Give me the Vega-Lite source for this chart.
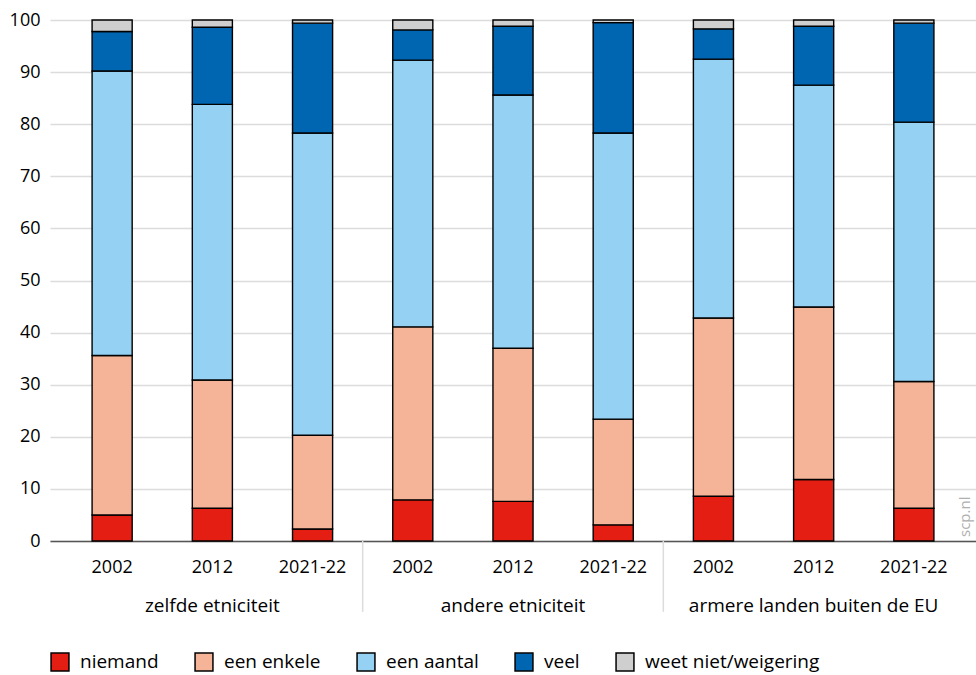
{
  "$schema": "https://vega.github.io/schema/vega-lite/v6.json",
  "width": 926,
  "height": 521,
  "autosize": {"type": "none"},
  "padding": {"left": 50, "top": 20, "right": 0, "bottom": 134},
  "config": {"font": "Open Sans", "view": {"stroke": null}},
  "datasets": {
    "bars": [
      {"g": "zelfde etniciteit|2002", "cat": "niemand", "k": 0, "v": 5.0},
      {"g": "zelfde etniciteit|2002", "cat": "een enkele", "k": 1, "v": 30.6},
      {"g": "zelfde etniciteit|2002", "cat": "een aantal", "k": 2, "v": 54.6},
      {"g": "zelfde etniciteit|2002", "cat": "veel", "k": 3, "v": 7.6},
      {"g": "zelfde etniciteit|2002", "cat": "weet niet/weigering", "k": 4, "v": 2.2},
      {"g": "zelfde etniciteit|2012", "cat": "niemand", "k": 0, "v": 6.3},
      {"g": "zelfde etniciteit|2012", "cat": "een enkele", "k": 1, "v": 24.6},
      {"g": "zelfde etniciteit|2012", "cat": "een aantal", "k": 2, "v": 52.9},
      {"g": "zelfde etniciteit|2012", "cat": "veel", "k": 3, "v": 14.8},
      {"g": "zelfde etniciteit|2012", "cat": "weet niet/weigering", "k": 4, "v": 1.4},
      {"g": "zelfde etniciteit|2021-22", "cat": "niemand", "k": 0, "v": 2.3},
      {"g": "zelfde etniciteit|2021-22", "cat": "een enkele", "k": 1, "v": 18.0},
      {"g": "zelfde etniciteit|2021-22", "cat": "een aantal", "k": 2, "v": 58.0},
      {"g": "zelfde etniciteit|2021-22", "cat": "veel", "k": 3, "v": 21.1},
      {"g": "zelfde etniciteit|2021-22", "cat": "weet niet/weigering", "k": 4, "v": 0.6},
      {"g": "andere etniciteit|2002", "cat": "niemand", "k": 0, "v": 7.9},
      {"g": "andere etniciteit|2002", "cat": "een enkele", "k": 1, "v": 33.2},
      {"g": "andere etniciteit|2002", "cat": "een aantal", "k": 2, "v": 51.2},
      {"g": "andere etniciteit|2002", "cat": "veel", "k": 3, "v": 5.8},
      {"g": "andere etniciteit|2002", "cat": "weet niet/weigering", "k": 4, "v": 1.9},
      {"g": "andere etniciteit|2012", "cat": "niemand", "k": 0, "v": 7.6},
      {"g": "andere etniciteit|2012", "cat": "een enkele", "k": 1, "v": 29.4},
      {"g": "andere etniciteit|2012", "cat": "een aantal", "k": 2, "v": 48.6},
      {"g": "andere etniciteit|2012", "cat": "veel", "k": 3, "v": 13.2},
      {"g": "andere etniciteit|2012", "cat": "weet niet/weigering", "k": 4, "v": 1.2},
      {"g": "andere etniciteit|2021-22", "cat": "niemand", "k": 0, "v": 3.1},
      {"g": "andere etniciteit|2021-22", "cat": "een enkele", "k": 1, "v": 20.3},
      {"g": "andere etniciteit|2021-22", "cat": "een aantal", "k": 2, "v": 54.9},
      {"g": "andere etniciteit|2021-22", "cat": "veel", "k": 3, "v": 21.2},
      {"g": "andere etniciteit|2021-22", "cat": "weet niet/weigering", "k": 4, "v": 0.5},
      {"g": "armere landen buiten de EU|2002", "cat": "niemand", "k": 0, "v": 8.6},
      {"g": "armere landen buiten de EU|2002", "cat": "een enkele", "k": 1, "v": 34.2},
      {"g": "armere landen buiten de EU|2002", "cat": "een aantal", "k": 2, "v": 49.7},
      {"g": "armere landen buiten de EU|2002", "cat": "veel", "k": 3, "v": 5.8},
      {"g": "armere landen buiten de EU|2002", "cat": "weet niet/weigering", "k": 4, "v": 1.7},
      {"g": "armere landen buiten de EU|2012", "cat": "niemand", "k": 0, "v": 11.8},
      {"g": "armere landen buiten de EU|2012", "cat": "een enkele", "k": 1, "v": 33.1},
      {"g": "armere landen buiten de EU|2012", "cat": "een aantal", "k": 2, "v": 42.6},
      {"g": "armere landen buiten de EU|2012", "cat": "veel", "k": 3, "v": 11.3},
      {"g": "armere landen buiten de EU|2012", "cat": "weet niet/weigering", "k": 4, "v": 1.2},
      {"g": "armere landen buiten de EU|2021-22", "cat": "niemand", "k": 0, "v": 6.3},
      {"g": "armere landen buiten de EU|2021-22", "cat": "een enkele", "k": 1, "v": 24.3},
      {"g": "armere landen buiten de EU|2021-22", "cat": "een aantal", "k": 2, "v": 49.8},
      {"g": "armere landen buiten de EU|2021-22", "cat": "veel", "k": 3, "v": 19.0},
      {"g": "armere landen buiten de EU|2021-22", "cat": "weet niet/weigering", "k": 4, "v": 0.6}
    ],
    "groups": [
      {"g": "zelfde etniciteit|2012", "label": "zelfde etniciteit"},
      {"g": "andere etniciteit|2012", "label": "andere etniciteit"},
      {"g": "armere landen buiten de EU|2012", "label": "armere landen buiten de EU"}
    ],
    "seps": [
      {"g": "andere etniciteit|2002"},
      {"g": "armere landen buiten de EU|2002"}
    ],
    "credit": [
      {"g": "armere landen buiten de EU|2021-22", "label": "scp.nl"}
    ]
  },
  "layer": [
    {
      "data": {"name": "bars"},
      "mark": {"type": "bar", "stroke": "black", "strokeWidth": 1.4},
      "encoding": {
        "x": {
          "field": "g", "type": "nominal",
          "scale": {
            "domain": [
              "zelfde etniciteit|2002", "zelfde etniciteit|2012", "zelfde etniciteit|2021-22",
              "andere etniciteit|2002", "andere etniciteit|2012", "andere etniciteit|2021-22",
              "armere landen buiten de EU|2002", "armere landen buiten de EU|2012", "armere landen buiten de EU|2021-22"
            ],
            "paddingInner": 0.6, "paddingOuter": 0.42
          },
          "axis": {
            "title": null, "labelExpr": "split(datum.value, '|')[1]", "labelAngle": 0,
            "ticks": false, "grid": false, "labelFontSize": 18, "labelPadding": 17,
            "labelColor": "#000000", "domainColor": "#555555", "domainWidth": 1.5
          }
        },
        "y": {
          "field": "v", "type": "quantitative", "stack": "zero",
          "scale": {"domain": [0, 100], "nice": false, "zero": true},
          "axis": {
            "title": null, "values": [0, 10, 20, 30, 40, 50, 60, 70, 80, 90, 100],
            "domain": false, "ticks": false, "labelFontSize": 18, "labelPadding": 10,
            "labelColor": "#000000", "gridColor": "#dcdcdc", "gridWidth": 1.5
          }
        },
        "color": {
          "field": "cat", "type": "nominal",
          "scale": {
            "domain": ["niemand", "een enkele", "een aantal", "veel", "weet niet/weigering"],
            "range": ["#e41e13", "#f5b498", "#94d1f3", "#0066b2", "#cfcfcf"]
          },
          "legend": {
            "orient": "none", "legendX": 0, "legendY": 632, "direction": "horizontal",
            "title": null, "symbolType": "square", "symbolSize": 320,
            "symbolStrokeColor": "black", "symbolStrokeWidth": 1.5, "symbolOpacity": 1,
            "labelFontSize": 19, "labelOffset": 10, "columnPadding": 33, "labelLimit": 0,
            "labelColor": "#000000"
          }
        },
        "order": {"field": "k", "type": "quantitative", "sort": "ascending"}
      }
    },
    {
      "data": {"name": "seps"},
      "mark": {"type": "rule", "color": "#dcdcdc", "strokeWidth": 1.5},
      "encoding": {
        "x": {"field": "g", "type": "nominal", "bandPosition": -0.75, "axis": {"title": null}},
        "y": {"datum": 0},
        "y2": {"datum": -13.6}
      }
    },
    {
      "data": {"name": "groups"},
      "mark": {"type": "text", "fontSize": 19, "baseline": "middle", "align": "center", "color": "#000000"},
      "encoding": {
        "x": {"field": "g", "type": "nominal", "axis": {"title": null}},
        "y": {"datum": -12.5},
        "text": {"field": "label"}
      }
    },
    {
      "data": {"name": "credit"},
      "mark": {"type": "text", "fontSize": 15, "angle": 270, "align": "left", "baseline": "middle", "dx": 4, "dy": 51, "color": "#b0b0b0"},
      "encoding": {
        "x": {"field": "g", "type": "nominal", "axis": {"title": null}},
        "y": {"datum": 0},
        "text": {"field": "label"}
      }
    }
  ]
}
